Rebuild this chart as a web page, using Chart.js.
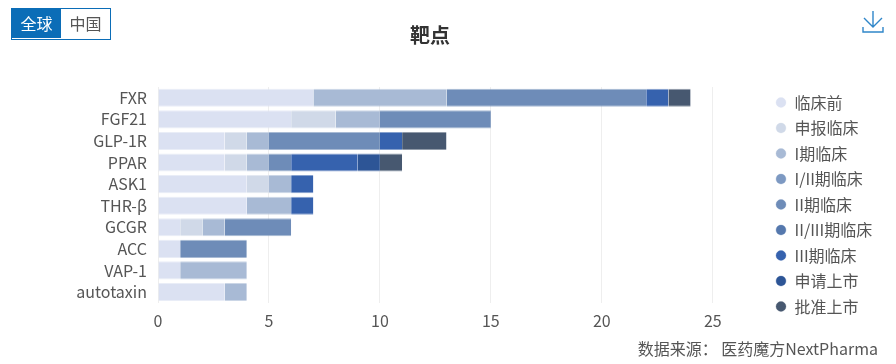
<!DOCTYPE html>
<html>
<head>
<meta charset="utf-8">
<script src="https://cdn.jsdelivr.net/npm/chart.js@4/dist/chart.umd.min.js"></script>
<style>
  body { margin: 0; background: #fff; font-family: "Noto Sans CJK SC", sans-serif; }
  #wrap { position: relative; width: 896px; height: 364px; overflow: hidden; }
  canvas { position: absolute; left: 0; top: 0; }
  #scope { position: absolute; left: 11px; top: 8px; width: 98px; height: 30px; border: 1px solid #0b6db7; display: flex; font-size: 16px; line-height: 28px; color: #555; }
  #scope span { text-align: center; }
  #scope .on { width: 49px; height: 29px; background: #0b6db7; color: #fff; }
  #scope .off { width: 49px; }
  #download { position: absolute; left: 862px; top: 11px; }
  #source { position: absolute; right: 18px; top: 337px; font-size: 16px; line-height: 22px; color: #555; white-space: pre; }
</style>
</head>
<body>
<div id="wrap">
  <canvas id="chart" width="896" height="364"></canvas>
  <div id="scope"><span class="on">全球</span><span class="off">中国</span></div>
  <svg id="download" width="22" height="22" viewBox="0 0 22 22" fill="none" stroke="#2f86c9" stroke-width="1.4">
    <path d="M11 0V16M2 7L11 16L20 7M1 16V21H21V16"/>
  </svg>
  <div id="source">数据来源： 医药魔方NextPharma</div>
</div>
<script>
const targets = ['FXR', 'FGF21', 'GLP-1R', 'PPAR', 'ASK1', 'THR-β', 'GCGR', 'ACC', 'VAP-1', 'autotaxin'];
const stages = ['临床前', '申报临床', 'I期临床', 'I/II期临床', 'II期临床', 'II/III期临床', 'III期临床', '申请上市', '批准上市'];

// Drug counts per stage, same order as targets
const preclinical = [7, 6, 3, 3, 4, 4, 1, 1, 1, 3];
const filed = [null, 2, 1, 1, 1, null, 1, null, null, null];
const phase1 = [6, 2, 1, 1, 1, 2, 1, null, 3, 1];
const phase1to2 = [null, null, null, null, null, null, null, null, null, null];
const phase2 = [9, 5, 5, 1, null, null, 3, 3, null, null];
const phase2to3 = [null, null, null, null, null, null, null, null, null, null];
const phase3 = [1, null, 1, 3, 1, 1, null, null, null, null];
const nda = [null, null, null, 1, null, null, null, null, null, null];
const approved = [1, null, 2, 1, null, null, null, null, null, null];
const stageValues = [preclinical, filed, phase1, phase1to2, phase2, phase2to3, phase3, nda, approved];

const xTicks = [0, 5, 10, 15, 20, 25];
const stageColors = ['#dbe1f2', '#d0d9e8', '#a8bad5', '#7d99c2', '#6e8cb8', '#5578ad', '#3662ae', '#2d5596', '#475870'];

const fontFamily = '"Noto Sans CJK SC", sans-serif';
const textColor = '#555';

// Legend sits well right of the plot, further than the layout would put it
const legendOffset = {
    id: 'legendOffset',
    afterLayout(chart) {
        const legend = chart.legend;
        legend.left = 766;
        legend.right = 896;
        legend.top = 85;
        legend.bottom = 345;
    }
};

new Chart(document.getElementById('chart'), {
    type: 'bar',
    data: {
        labels: targets,
        datasets: stages.map((stage, i) => ({
            label: stage,
            data: stageValues[i],
            backgroundColor: stageColors[i],
            borderColor: stageColors[i] + '99',
            borderWidth: { top: 1, bottom: 1, left: 0, right: 0 },
            borderSkipped: false,
            barPercentage: 0.84,
            categoryPercentage: 1,
            stack: 'all'
        }))
    },
    options: {
        indexAxis: 'y',
        responsive: false,
        animation: false,
        layout: { padding: { left: 31, right: 67, top: 23, bottom: 24 } },
        scales: {
            x: {
                stacked: true,
                min: 0,
                max: 25,
                afterBuildTicks(scale) {
                    scale.ticks = xTicks.map(value => ({ value }));
                },
                grid: { color: '#eeeeee', drawTicks: false },
                border: { display: false },
                ticks: { color: textColor, padding: 9, font: { family: fontFamily, size: 16 } }
            },
            y: {
                stacked: true,
                afterFit(scale) { scale.width = 127; },
                grid: { display: false },
                border: { display: false },
                ticks: { color: textColor, padding: 3, autoSkip: false, font: { family: fontFamily, size: 16 } }
            }
        },
        plugins: {
            title: {
                display: true,
                text: '靶点',
                color: '#333',
                font: { family: fontFamily, size: 20, weight: 'bold' },
                padding: { top: 0, bottom: 40 }
            },
            legend: {
                position: 'right',
                align: 'start',
                labels: {
                    usePointStyle: true,
                    pointStyle: 'circle',
                    boxWidth: 11,
                    boxHeight: 7,
                    padding: 9.5,
                    color: textColor,
                    font: { family: fontFamily, size: 16 }
                }
            },
            tooltip: { enabled: false }
        }
    },
    plugins: [legendOffset]
});
</script>
</body>
</html>
